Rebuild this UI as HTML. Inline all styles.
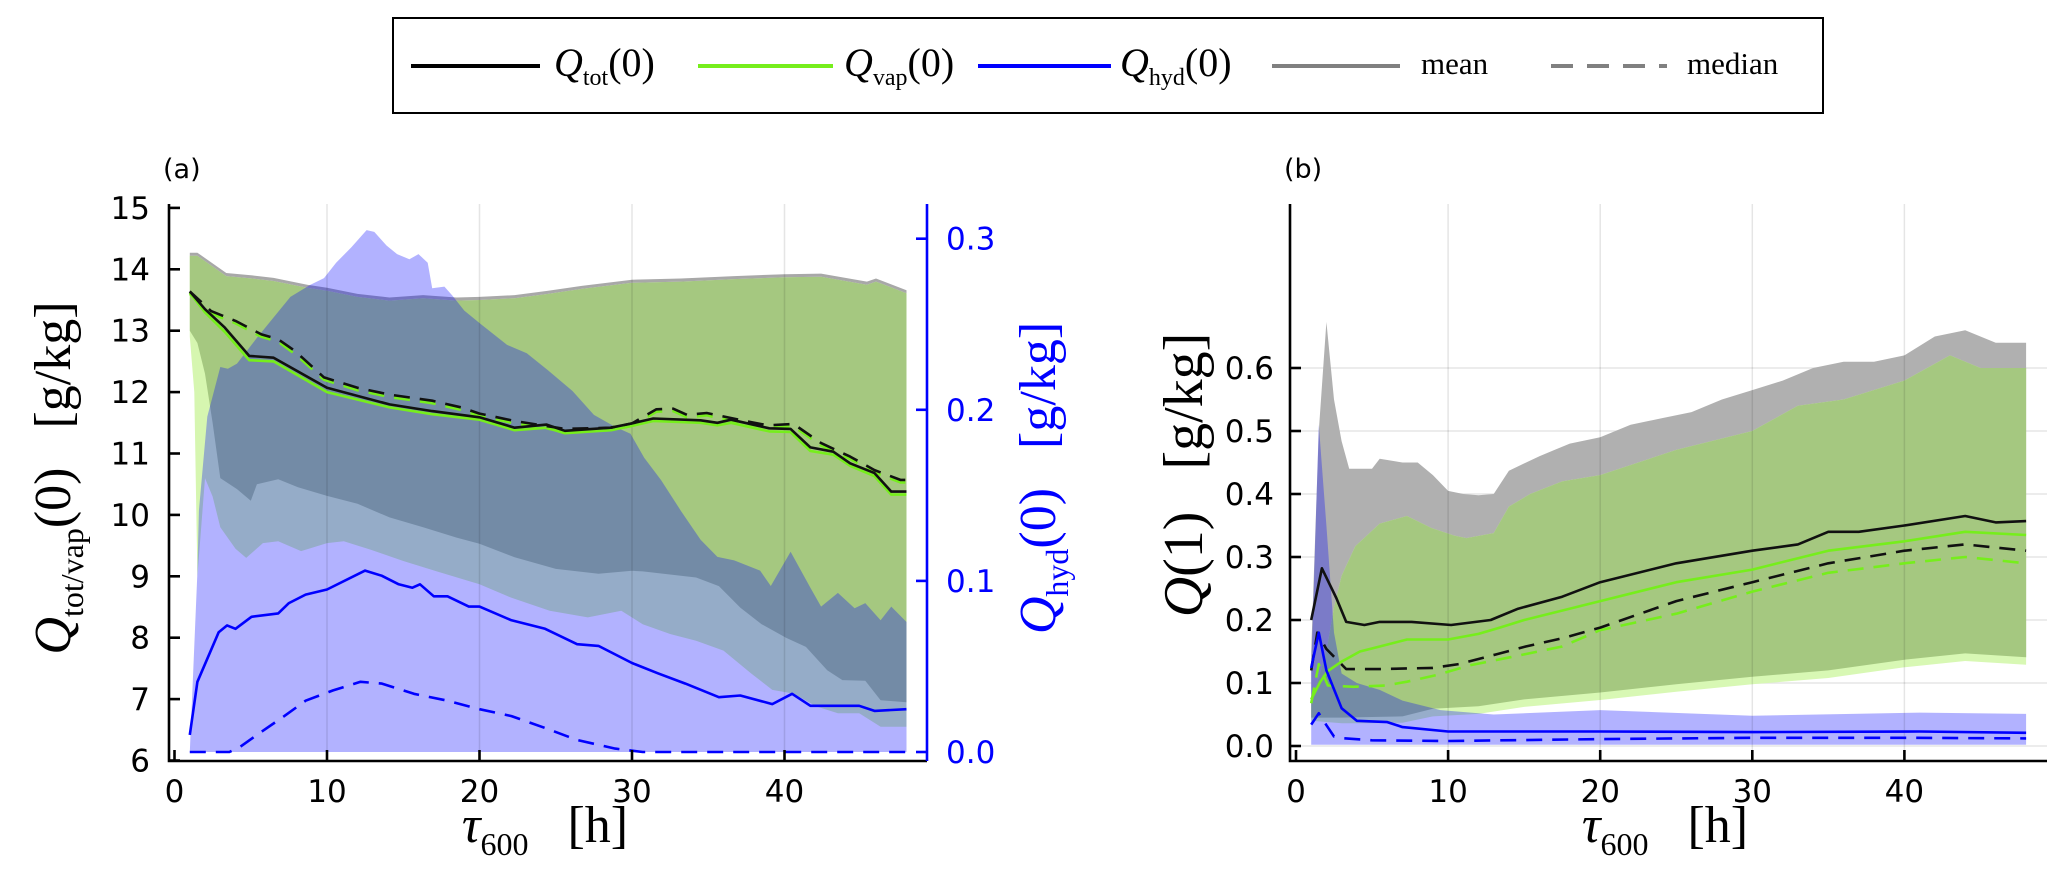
<!DOCTYPE html>
<html><head><meta charset="utf-8"><style>
html,body{margin:0;padding:0;background:#fff;}
svg{display:block;}
text{font-family:"DejaVu Sans","Liberation Sans",sans-serif;}
.ser{font-family:"Liberation Serif","DejaVu Serif",serif;}
</style></head><body>
<svg id="chart" width="2067" height="885" viewBox="0 0 2067 885">
<g id="legend">
  <rect x="393" y="18" width="1430" height="95" fill="#fff" stroke="#000" stroke-width="2"/>
  <g>
    <line x1="411" y1="66" x2="540" y2="66" stroke="#000" stroke-width="4"/>
    <text x="554" y="76" class="ser" font-size="40"><tspan font-style="italic">Q</tspan><tspan font-size="24" dy="9">tot</tspan><tspan dy="-9">(0)</tspan></text>
  </g>
  <g>
    <line x1="698" y1="66" x2="833" y2="66" stroke="#76ee1c" stroke-width="4"/>
    <text x="844" y="76" class="ser" font-size="40"><tspan font-style="italic">Q</tspan><tspan font-size="24" dy="9">vap</tspan><tspan dy="-9">(0)</tspan></text>
  </g>
  <g>
    <line x1="978" y1="66" x2="1111" y2="66" stroke="#0000ff" stroke-width="4"/>
    <text x="1120" y="76" class="ser" font-size="40"><tspan font-style="italic">Q</tspan><tspan font-size="24" dy="9">hyd</tspan><tspan dy="-9">(0)</tspan></text>
  </g>
  <g>
    <line x1="1272" y1="66" x2="1400" y2="66" stroke="#808080" stroke-width="4"/>
    <text x="1421" y="74" class="ser" font-size="31">mean</text>
  </g>
  <g>
    <line x1="1551" y1="66" x2="1667" y2="66" stroke="#808080" stroke-width="4" stroke-dasharray="22,14"/>
    <text x="1687" y="74" class="ser" font-size="31">median</text>
  </g>
</g>
<g id="pa"></g>
<g id="pb"></g>
</svg>
<script>
// ---------- Panel (a) data ----------
const aTotTopT=[1,1.5,3.4,5.1,6.5,8.7,10,12,14.1,16.3,18.5,20,22.3,24.5,26.7,30,33.2,36.7,40,42.4,45.4,46,48];
const aTotTopV=[14.27,14.27,13.94,13.9,13.86,13.75,13.7,13.6,13.54,13.58,13.54,13.55,13.58,13.65,13.73,13.83,13.85,13.89,13.92,13.93,13.8,13.85,13.66];
const aVapTopV=[14.22,14.22,13.89,13.85,13.81,13.7,13.65,13.55,13.49,13.53,13.49,13.5,13.53,13.6,13.68,13.78,13.8,13.84,13.87,13.88,13.75,13.8,13.61];
const aTotBotT=[1,1.5,2,2.5,3,4.1,5,5.4,6.8,8.1,10,12,14.1,16.3,18.5,20,22.3,25,27.8,30,30.7,34.2,35.7,37.1,38.5,40.1,41.4,42.8,43.8,45.3,46.3,48];
const aTotBotV=[13.0,12.8,12.3,11.5,10.6,10.42,10.23,10.5,10.58,10.45,10.31,10.18,9.96,9.8,9.63,9.53,9.31,9.12,9.04,9.09,9.08,8.98,8.84,8.49,8.22,8.0,7.85,7.47,7.31,7.3,6.98,6.95];
const aVapBotT=[1,1.3,1.5,2,2.5,3,4,4.7,5.8,6.8,8.3,10,11.1,12.9,15,17.2,20,22.1,24.6,27.1,29.3,30.7,32.5,34.2,36,37.8,39.2,40.6,42.1,43.5,44.9,46.3,48];
const aVapBotV=[12.9,12.0,9.0,10.6,10.3,9.8,9.45,9.3,9.54,9.57,9.41,9.54,9.57,9.43,9.25,9.08,8.87,8.65,8.44,8.33,8.44,8.22,8.06,7.95,7.79,7.42,7.15,7.09,6.88,6.77,6.77,6.55,6.55];
const aHydTopT=[1,1.5,1.6,2.15,3,3.5,4.1,5.4,7.6,8.9,9.8,10.6,11.6,12.6,13.1,13.9,14.6,15.4,16,16.6,16.9,17.7,18.2,19,20.1,21.8,23.1,24.5,26.1,27.5,28.9,29.9,30.8,31.9,33.2,34.5,35.6,36.7,38.4,39.1,40.4,41.7,42.4,43.5,44.6,45.3,46.3,47,48];
const aHydTopV=[0.0,0.105,0.141,0.196,0.225,0.224,0.227,0.242,0.266,0.273,0.277,0.286,0.295,0.305,0.304,0.296,0.291,0.288,0.291,0.286,0.271,0.272,0.267,0.258,0.25,0.238,0.233,0.223,0.211,0.197,0.19,0.186,0.172,0.159,0.141,0.124,0.114,0.112,0.106,0.097,0.117,0.096,0.085,0.093,0.084,0.087,0.077,0.085,0.076];
const aHydBotT=[1,48];
const aHydBotV=[0.0,0.0];
const aMeanT=[1,2,3.3,4.9,6.5,10,14.1,16.9,20,22.3,24.4,25.6,28.6,30,31.4,34.5,35.6,36.5,39,40.4,41.7,43.2,44.3,45.9,47,48];
const aTotMeanV=[13.64,13.35,13.05,12.59,12.56,12.07,11.8,11.69,11.59,11.42,11.47,11.37,11.42,11.49,11.57,11.54,11.5,11.55,11.41,11.4,11.1,11.03,10.84,10.68,10.38,10.38];
const aVapMeanV=[13.62,13.3,12.98,12.52,12.5,12.0,11.75,11.64,11.55,11.38,11.42,11.33,11.38,11.45,11.53,11.5,11.46,11.5,11.36,11.35,11.04,10.98,10.8,10.63,10.33,10.33];
const aMedT=[1,2.4,4,5.7,6.8,7.9,9.8,12,14.1,16.9,18.8,20,22.3,25.6,28.6,30,31.6,32.7,33.6,34.9,37,38.9,40.6,42.4,44.3,45.9,47.6,48];
const aTotMedV=[13.64,13.32,13.16,12.94,12.86,12.67,12.24,12.07,11.96,11.86,11.75,11.65,11.53,11.4,11.42,11.49,11.72,11.73,11.63,11.66,11.55,11.46,11.48,11.17,10.95,10.73,10.57,10.57];
const aVapMedV=[13.6,13.28,13.12,12.9,12.82,12.62,12.2,12.03,11.92,11.82,11.71,11.61,11.49,11.36,11.38,11.45,11.68,11.69,11.59,11.62,11.51,11.42,11.44,11.13,10.91,10.69,10.53,10.53];
const aHydMeanT=[1,1.5,2.9,3.45,4,5.05,6.8,7.5,8.6,10,12.5,13.6,14.7,15.6,16.1,17,17.9,19.3,20,22.1,24.3,26.4,27.8,30,31.7,33.5,35.7,37.1,39.2,40.5,41.7,44.9,45.9,48];
const aHydMeanV=[0.010,0.041,0.070,0.074,0.072,0.079,0.081,0.087,0.092,0.095,0.106,0.103,0.098,0.096,0.098,0.091,0.091,0.085,0.085,0.077,0.072,0.063,0.062,0.052,0.046,0.040,0.032,0.033,0.028,0.034,0.027,0.027,0.024,0.025];
const aHydMedT=[1,3.6,4.3,5.4,7.2,8.6,10.4,12.2,13.6,15.7,17.9,20,22.1,24.3,26.4,28.9,30.7,40,48];
const aHydMedV=[0,0,0.003,0.010,0.021,0.030,0.036,0.041,0.040,0.034,0.030,0.025,0.021,0.014,0.007,0.002,0.0,0.0,0.0];
const aLeftTicks=[6,7,8,9,10,11,12,13,14,15];
const aRightTicks=[0.0,0.1,0.2,0.3];
const aRightLabels=["0.0","0.1","0.2","0.3"];
const xTicks=[0,10,20,30,40];

// ---------- Panel (b) data ----------
const bTotTopT=[1,1.5,2,2.5,3,3.5,5,5.5,7,8,9,10,11,12,13,14,16,17,18,20,22,24,26,28,30,32,34,36,38,40,42,44,46,48];
const bTotTopV=[0.15,0.5,0.673,0.55,0.484,0.44,0.44,0.456,0.45,0.45,0.43,0.405,0.40,0.398,0.40,0.437,0.46,0.47,0.48,0.49,0.51,0.52,0.53,0.55,0.565,0.58,0.6,0.61,0.61,0.62,0.65,0.66,0.64,0.64];
const bVapTopT=[1,2,2.5,3,3.9,5.5,7.3,8.9,10.4,11.2,13,14,15.4,17.5,20,25,30,33,36,40,43,45,48];
const bVapTopV=[0.07,0.15,0.22,0.27,0.317,0.353,0.365,0.346,0.334,0.33,0.338,0.38,0.4,0.42,0.43,0.47,0.5,0.54,0.55,0.58,0.62,0.6,0.6];
const bBotT=[1,3,5,7,9,12,15,20,25,30,35,40,44,48];
const bTotBotV=[0.045,0.045,0.046,0.047,0.059,0.063,0.074,0.085,0.098,0.11,0.12,0.137,0.147,0.141];
const bVapBotV=[0.04,0.036,0.036,0.037,0.047,0.051,0.062,0.073,0.086,0.098,0.108,0.125,0.135,0.129];
const bHydTopT=[1,1.5,2,2.5,3,4,5.5,7,9.5,13,20,30,41,48];
const bHydTopV=[0.12,0.51,0.35,0.18,0.115,0.1,0.089,0.072,0.057,0.05,0.057,0.048,0.053,0.051];
const bHydBotT=[1,48];
const bHydBotV=[0.002,0.002];
const bTotMeanT=[1,1.7,2.65,3.3,4.5,5.5,7.6,10.2,12.8,14.6,17.5,20,25,30,33,35,37,40,44,46,48];
const bTotMeanV=[0.2,0.282,0.235,0.197,0.192,0.197,0.197,0.192,0.2,0.218,0.237,0.26,0.29,0.31,0.32,0.34,0.34,0.35,0.365,0.355,0.357];
const bVapMeanT=[1,1.6,2.1,3,4.2,5.5,7.3,10,12,13.4,15,20,25,30,35,40,44,48];
const bVapMeanV=[0.074,0.102,0.119,0.134,0.15,0.158,0.169,0.169,0.178,0.188,0.2,0.23,0.26,0.28,0.31,0.325,0.34,0.335];
const bTotMedT=[1,1.4,2,3.3,5.5,9,10.7,13.1,15.1,17.5,20,25,30,35,40,44,48];
const bTotMedV=[0.12,0.18,0.154,0.122,0.122,0.124,0.13,0.145,0.158,0.171,0.188,0.23,0.26,0.29,0.31,0.32,0.31];
const bVapMedT=[1,1.5,2.1,3.8,5.9,7.3,9.3,11.4,14.1,17.5,20,25,30,35,40,44,48];
const bVapMedV=[0.068,0.13,0.096,0.094,0.096,0.102,0.113,0.128,0.141,0.158,0.184,0.21,0.245,0.275,0.29,0.3,0.29];
const bHydMeanT=[1,1.5,2,3,4,6,7,10,20,30,41,48];
const bHydMeanV=[0.124,0.18,0.12,0.06,0.04,0.038,0.03,0.023,0.023,0.022,0.023,0.021];
const bHydMedT=[1,1.5,2,2.5,3,5,10,20,30,40,48];
const bHydMedV=[0.034,0.052,0.033,0.015,0.0125,0.009,0.008,0.011,0.013,0.013,0.012];
const bTicks=[0.0,0.1,0.2,0.3,0.4,0.5,0.6];
const bLabels=["0.0","0.1","0.2","0.3","0.4","0.5","0.6"];

const NS="http://www.w3.org/2000/svg";
function mk(parent,tag,attrs){const e=document.createElementNS(NS,tag);for(const k in attrs)e.setAttribute(k,attrs[k]);parent.appendChild(e);return e;}

const xa=t=>174.5+15.25*t;
const ya=v=>760.5-(v-6)*61.4;
const yaR=r=>752-r*1711;
const xb=t=>1296+15.21*t;
const yb=v=>746-v*630;

function linePath(T,V,fx,fy){return T.map((t,i)=>(i?"L":"M")+fx(t).toFixed(1)+","+fy(V[i]).toFixed(1)).join("");}
function bandPath(T1,V1,T2,V2,fx,fy1,fy2){
  let d=T1.map((t,i)=>(i?"L":"M")+fx(t).toFixed(1)+","+fy1(V1[i]).toFixed(1)).join("");
  for(let i=T2.length-1;i>=0;i--)d+="L"+fx(T2[i]).toFixed(1)+","+fy2(V2[i]).toFixed(1);
  return d+"Z";
}
const TICKFS=31;

// ===== Panel A =====
const pa=document.getElementById('pa');
let e;
e=mk(pa,'path',{d:bandPath(aTotTopT,aVapTopV,aVapBotT,aVapBotV,xa,ya,ya),fill:'#d6f6b0'});


e=mk(pa,'path',{d:bandPath(aTotTopT,aVapTopV,aTotBotT,aTotBotV,xa,ya,ya),fill:'#a5c880'});


e=mk(pa,'path',{d:bandPath(aTotTopT,aTotTopV,aTotTopT,aVapTopV,xa,ya,ya),fill:'#a8a8a8'});


e=mk(pa,'path',{d:bandPath(aHydTopT,aHydTopV,aHydBotT,aHydBotV,xa,yaR,yaR),fill:'#0000ff','fill-opacity':'0.3'});


xTicks.forEach(t=>{
  if(t===0)return;
  e=mk(pa,'line',{x1:xa(t),x2:xa(t),y1:204,y2:760,stroke:'#000','stroke-opacity':'0.1','stroke-width':1.5});
  
  
});
function addLine(g,T,V,fx,fy,col,dash,name){
  const a={d:linePath(T,V,fx,fy),fill:'none',stroke:col,'stroke-width':2.6,'stroke-linejoin':'round'};
  if(dash)a['stroke-dasharray']=dash;
  const p=mk(g,'path',a);
  
  
}
addLine(pa,aMeanT,aVapMeanV,xa,ya,'#76ee1c',null,'qvap-mean-line');
addLine(pa,aMedT,aVapMedV,xa,ya,'#76ee1c','16,10','qvap-median-line');
addLine(pa,aMeanT,aTotMeanV,xa,ya,'#111',null,'qtot-mean-line');
addLine(pa,aMedT,aTotMedV,xa,ya,'#111','16,10','qtot-median-line');
addLine(pa,aHydMeanT,aHydMeanV,xa,yaR,'#0000ff',null,'qhyd-mean-line');
addLine(pa,aHydMedT,aHydMedV,xa,yaR,'#0000ff','16,10','qhyd-median-line');
e=mk(pa,'path',{d:'M169,204V761H927',fill:'none',stroke:'#000','stroke-width':2.6});


e=mk(pa,'line',{x1:927,x2:927,y1:204,y2:761,stroke:'#0000ff','stroke-width':2.6});


aLeftTicks.forEach(v=>{
  e=mk(pa,'line',{x1:169,x2:180,y1:ya(v),y2:ya(v),stroke:'#000','stroke-width':2.6});
  
  
  e=mk(pa,'text',{x:150,y:ya(v)+11,'text-anchor':'end','font-size':TICKFS});
  e.textContent=String(v);
  
  
});
aRightTicks.forEach((r,i)=>{
  e=mk(pa,'line',{x1:916,x2:927,y1:yaR(r),y2:yaR(r),stroke:'#0000ff','stroke-width':2.6});
  
  
  e=mk(pa,'text',{x:946,y:yaR(r)+11,'font-size':TICKFS,fill:'#0000ff'});
  e.textContent=aRightLabels[i];
  
  
});
xTicks.forEach(t=>{
  e=mk(pa,'line',{x1:xa(t),x2:xa(t),y1:750,y2:761,stroke:'#000','stroke-width':2.6});
  
  
  e=mk(pa,'text',{x:xa(t),y:802,'text-anchor':'middle','font-size':TICKFS});
  e.textContent=String(t);
  
  
});
function xTitle(g,cx){
  const tx=mk(g,'text',{x:cx,y:842,'text-anchor':'middle','font-size':52,class:'ser'});
  tx.innerHTML='<tspan font-style="italic">τ</tspan><tspan font-size="32" dy="13">600</tspan><tspan dy="-13" xml:space="preserve">   [h]</tspan>';
  
  
}
xTitle(pa,545);
e=mk(pa,'text',{x:0,y:0,'text-anchor':'middle','font-size':52,class:'ser',transform:'translate(70,478) rotate(-90)'});
e.innerHTML='<tspan font-style="italic">Q</tspan><tspan font-size="32" dy="13">tot/vap</tspan><tspan dy="-13" xml:space="preserve">(0)   [g/kg]</tspan>';


e=mk(pa,'text',{x:0,y:0,'text-anchor':'middle','font-size':52,class:'ser',fill:'#0000ff',transform:'translate(1055,478) rotate(-90)'});
e.innerHTML='<tspan font-style="italic">Q</tspan><tspan font-size="32" dy="13">hyd</tspan><tspan dy="-13" xml:space="preserve">(0)   [g/kg]</tspan>';


e=mk(pa,'text',{x:163,y:178,'font-size':27});
e.textContent='(a)';



// ===== Panel B =====
const pb=document.getElementById('pb');
bTicks.forEach(v=>{
  e=mk(pb,'line',{x1:1290,x2:2047,y1:yb(v),y2:yb(v),stroke:'#000','stroke-opacity':'0.1','stroke-width':1.5});
  
  
});
e=mk(pb,'path',{d:bandPath(bTotTopT,bTotTopV,bBotT,bTotBotV,xb,yb,yb),fill:'#b0b0b0'});


e=mk(pb,'path',{d:bandPath(bVapTopT,bVapTopV,bBotT,bVapBotV,xb,yb,yb),fill:'#d8f8b4'});


e=mk(pb,'path',{d:bandPath(bVapTopT,bVapTopV,bBotT,bTotBotV,xb,yb,yb),fill:'#a5c880'});


e=mk(pb,'path',{d:bandPath(bHydTopT,bHydTopV,bHydBotT,bHydBotV,xb,yb,yb),fill:'#0000ff','fill-opacity':'0.3'});


xTicks.forEach(t=>{
  if(t===0)return;
  e=mk(pb,'line',{x1:xb(t),x2:xb(t),y1:204,y2:760,stroke:'#000','stroke-opacity':'0.1','stroke-width':1.5});
  
  
});
addLine(pb,bVapMeanT,bVapMeanV,xb,yb,'#76ee1c',null,'q1-vap-mean-line');
addLine(pb,bVapMedT,bVapMedV,xb,yb,'#76ee1c','16,10','q1-vap-median-line');
addLine(pb,bTotMeanT,bTotMeanV,xb,yb,'#111',null,'q1-tot-mean-line');
addLine(pb,bTotMedT,bTotMedV,xb,yb,'#111','16,10','q1-tot-median-line');
addLine(pb,bHydMeanT,bHydMeanV,xb,yb,'#0000ff',null,'q1-hyd-mean-line');
addLine(pb,bHydMedT,bHydMedV,xb,yb,'#0000ff','16,10','q1-hyd-median-line');
e=mk(pb,'path',{d:'M1290,204V761H2047',fill:'none',stroke:'#000','stroke-width':2.6});


bTicks.forEach((v,i)=>{
  e=mk(pb,'line',{x1:1290,x2:1301,y1:yb(v),y2:yb(v),stroke:'#000','stroke-width':2.6});
  
  
  e=mk(pb,'text',{x:1274,y:yb(v)+11,'text-anchor':'end','font-size':TICKFS});
  e.textContent=bLabels[i];
  
  
});
xTicks.forEach(t=>{
  e=mk(pb,'line',{x1:xb(t),x2:xb(t),y1:750,y2:761,stroke:'#000','stroke-width':2.6});
  
  
  e=mk(pb,'text',{x:xb(t),y:802,'text-anchor':'middle','font-size':TICKFS});
  e.textContent=String(t);
  
  
});
xTitle(pb,1665);
e=mk(pb,'text',{x:0,y:0,'text-anchor':'middle','font-size':56,class:'ser',transform:'translate(1202,475) rotate(-90)'});
e.innerHTML='<tspan font-style="italic">Q</tspan><tspan xml:space="preserve">(1)   [g/kg]</tspan>';


e=mk(pb,'text',{x:1284,y:178,'font-size':27});
e.textContent='(b)';


</script>
</body></html>
